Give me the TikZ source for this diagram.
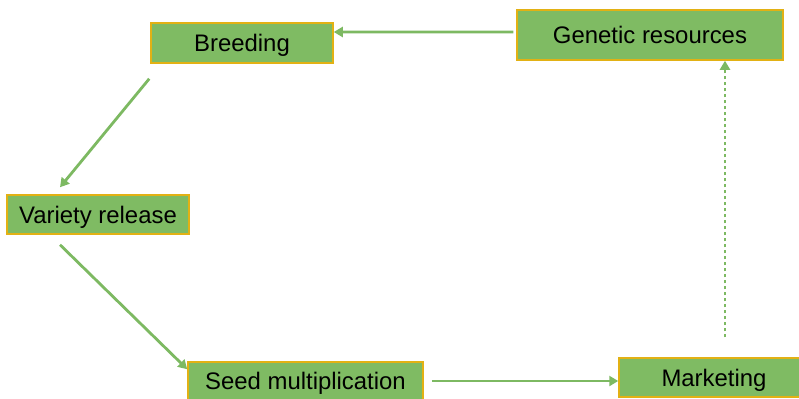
\documentclass[tikz,border=0pt]{standalone}
\usepackage{fontspec}
\setmainfont{Liberation Sans}
\usetikzlibrary{arrows.meta}
\definecolor{boxfill}{HTML}{7FBB63}
\definecolor{boxedge}{HTML}{E2B114}
\definecolor{arrcol}{HTML}{7DB962}
\tikzset{
  stepbox/.style={draw=boxedge, line width=1.5bp, fill=boxfill, inner sep=0pt,
    font=\fontsize{24}{28}\selectfont, text=black, text height=17.2bp, text depth=0pt},
  arr/.style={draw=arrcol, line width=2.8bp, -{Triangle[length=9bp,width=10bp]}},
  dotarr/.style={arr, dash pattern=on 3bp off 3bp}
}
\begin{document}
\begin{tikzpicture}[x=1bp,y=-1bp]
\useasboundingbox (0,0) rectangle (799,398);
\clip (0,0) rectangle (799,398);
\node[stepbox, minimum width=182bp, minimum height=40bp] (bre) at (242,43) {Breeding};
\node[stepbox, minimum width=266bp, minimum height=50bp] (gen) at (650,35) {Genetic resources};
\node[stepbox, minimum width=182bp, minimum height=39bp] (var) at (98,214.5) {Variety release};
\node[stepbox, minimum width=235bp, minimum height=38bp] (seed) at (305.5,381) {Seed multiplication};
\node[stepbox, minimum width=190bp, minimum height=39bp] (mark) at (714,377.5) {Marketing};
\draw[arr] ([xshift=-3bp,yshift=3bp]gen.west) -- ([yshift=11bp]bre.east);
\draw[arr] ([xshift=-1bp,yshift=-15bp]bre.south west) -- ([xshift=-38bp,yshift=7bp]var.north);
\draw[arr] ([xshift=-38bp,yshift=-10bp]var.south) -- ([yshift=-8bp]seed.north west);
\draw[arr] ([xshift=8bp]seed.east) -- (seed.east -| mark.west);
\draw[dotarr] ([xshift=11bp,yshift=20bp]mark.north) -- ([xshift=11bp]mark.north |- gen.south);
\end{tikzpicture}
\end{document}
